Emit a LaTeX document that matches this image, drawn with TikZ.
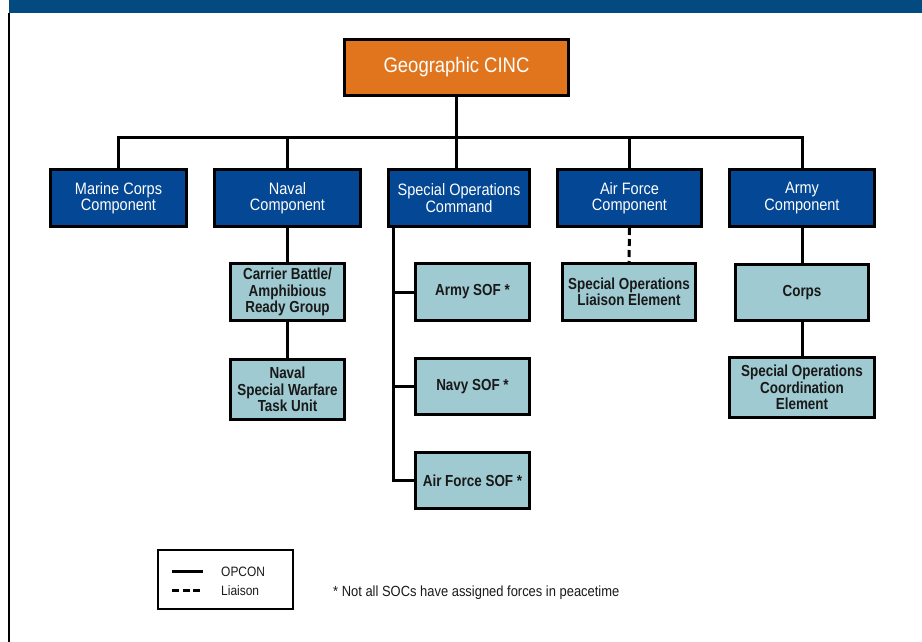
\documentclass[tikz,border=0pt]{standalone}
\usepackage{fontspec}
\setmainfont{Liberation Sans}[FakeStretch=0.88]
\newfontfamily\darkfont{Liberation Sans}[FakeStretch=0.84]
\definecolor{banner}{RGB}{3,74,128}
\definecolor{boxblue}{RGB}{4,71,148}
\definecolor{boxlight}{RGB}{159,202,209}
\definecolor{cincorange}{RGB}{224,117,30}
\definecolor{ink}{RGB}{25,25,25}
\tikzset{
  topbox/.style={draw=black, line width=3pt, fill=cincorange, text=white,
    font=\fontsize{21}{24}\selectfont, inner sep=0pt, align=center},
  compbox/.style={draw=black, line width=3pt, fill=boxblue, text=white,
    font=\fontsize{16.5}{16.5}\selectfont, inner sep=0pt, align=center, minimum height=57pt},
  unitbox/.style={draw=black, line width=3pt, fill=boxlight, text=ink,
    font=\darkfont\bfseries\fontsize{16}{16.5}\selectfont, inner sep=0pt, align=center},
  conn/.style={draw=black, line width=3pt},
  liaison/.style={draw=black, line width=3pt, dash pattern=on 7pt off 4pt},
  legtext/.style={text=ink, inner sep=0pt},
}
\begin{document}
\begin{tikzpicture}[x=1pt,y=-1pt]
\useasboundingbox (0,0) rectangle (922,642);
% frame
\fill[banner] (9,0) rectangle (922,13);
\draw[black, line width=2pt] (9,13) -- (9,642);

% nodes
\node[topbox, minimum width=224pt, minimum height=56pt] (cinc) at (456.5,67.5) {Geographic CINC};

\node[compbox, minimum width=136pt] (mc)   at (118.5,198) {Marine Corps\\Component};
\node[compbox, minimum width=146pt] (nav)  at (287.5,198) {Naval\\Component};
\node[compbox, minimum width=141pt] (soc)  at (459,198)   {Special Operations\\Command};
\node[compbox, minimum width=144pt] (af)   at (629.5,198) {Air Force\\Component};
\node[compbox, minimum width=145pt] (army) at (802,198)   {Army\\Component};

\node[unitbox, minimum width=114pt, minimum height=57pt] (cbg) at (287.5,292) {Carrier Battle/\\Amphibious\\Ready Group};
\node[unitbox, minimum width=114pt, minimum height=60pt] (nsw) at (287.5,389.5) {Naval\\Special Warfare\\Task Unit};

\node[unitbox, minimum width=114pt, minimum height=57pt] (asof)  at (472.5,292)   {Army SOF *};
\node[unitbox, minimum width=114pt, minimum height=56pt] (nsof)  at (472.5,386.5) {Navy SOF *};
\node[unitbox, minimum width=114pt, minimum height=56pt] (afsof) at (472.5,480.5) {Air Force SOF *};

\node[unitbox, minimum width=133pt, minimum height=57pt] (sole) at (629,292) {Special Operations\\Liaison Element};

\node[unitbox, minimum width=133pt, minimum height=56pt] (corps) at (802,292.5) {Corps};
\node[unitbox, minimum width=145pt, minimum height=60pt] (soce)  at (802,387.5) {Special Operations\\Coordination\\Element};

% connectors
\coordinate (bus) at (456.5,137);
\draw[conn] (mc.north) |- (bus) -| (army.north);
\draw[conn] (nav.north) -- (nav.north |- bus);
\draw[conn] (af.north) -- (af.north |- bus);
\draw[conn] (cinc.south) -- (cinc.south |- soc.north);

\draw[conn] (nav.south) -- (cbg.north);
\draw[conn] (cbg.south) -- (nsw.north);

\coordinate (socline) at ([xshift=6pt]soc.south west);
\draw[conn] (socline) |- (afsof.west);
\draw[conn] (socline |- asof.west) -- (asof.west);
\draw[conn] (socline |- nsof.west) -- (nsof.west);

\draw[liaison] (af.south) -- (sole.north);

\draw[conn] (army.south) -- (corps.north);
\draw[conn] (corps.south) -- (soce.north);

% legend
\node[draw=black, line width=2.5pt, minimum width=135pt, minimum height=59pt, inner sep=0pt] (legend) at (225.5,579.5) {};
\draw[black, line width=3pt] (172,571) -- (203,571);
\draw[black, line width=3pt, dash pattern=on 7pt off 3.5pt] (172,590) -- (203,590);
\node[legtext, font=\fontsize{13.6}{16}\selectfont, anchor=base west] (lopcon) at (221,576) {OPCON};
\node[legtext, font=\fontsize{13.6}{16}\selectfont, anchor=base west] (lliaison) at (221,595) {Liaison};
\node[legtext, font=\fontsize{14.7}{16}\selectfont, anchor=base west] (note) at (333,596) {* Not all SOCs have assigned forces in peacetime};
\end{tikzpicture}
\end{document}
